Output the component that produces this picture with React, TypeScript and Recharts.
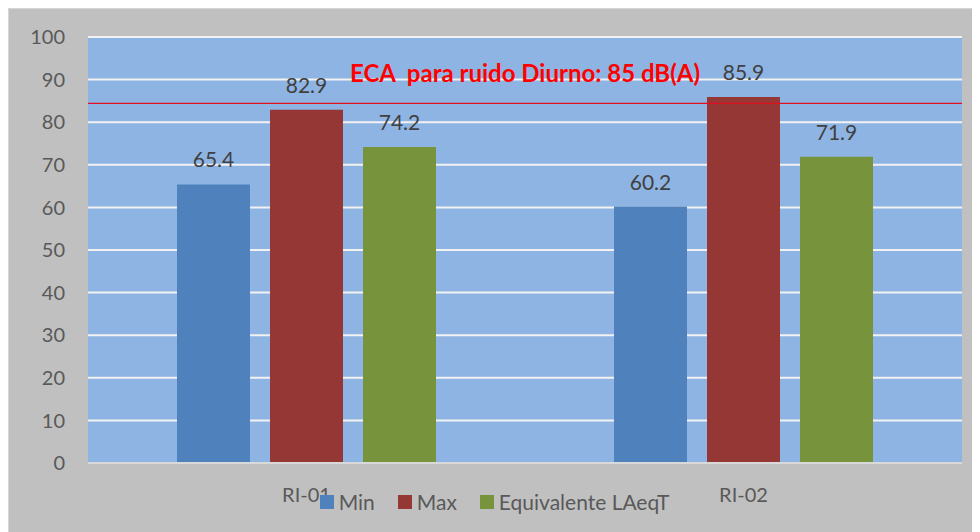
import React from "react";
import {
  BarChart,
  Bar,
  XAxis,
  YAxis,
  CartesianGrid,
  Legend,
  LabelList,
  ReferenceLine,
} from "recharts";

// puntos de monitoreo y niveles de ruido
const puntos = ["RI-01", "RI-02"];
const minVals = [65.4, 60.2];
const maxVals = [82.9, 85.9];
const laeqVals = [74.2, 71.9];
const yTicks = [0, 10, 20, 30, 40, 50, 60, 70, 80, 90, 100];

// la linea del ECA aparece dibujada algo por debajo de 85 en el grafico original
const ecaLinea = 84.4;
const ecaTexto = "ECA\u00A0\u00A0para ruido Diurno: 85 dB(A)";

const series = [
  { key: "min", name: "Min", color: "#4F81BD" },
  { key: "max", name: "Max", color: "#953735" },
  { key: "laeq", name: "Equivalente LAeqT", color: "#77933C" },
];

const data = puntos.map((p, i) => ({
  name: p,
  min: minVals[i],
  max: maxVals[i],
  laeq: laeqVals[i],
}));

const FONT = "Lato, 'Open Sans', sans-serif";

const LeyendaCustom = () => (
  <div
    style={{
      display: "flex",
      justifyContent: "center",
      alignItems: "center",
      fontFamily: FONT,
      fontSize: 21,
      color: "#595959",
    }}
  >
    {series.map((s, i) => (
      <div
        key={s.key}
        style={{ display: "flex", alignItems: "center", marginLeft: i === 0 ? 0 : 23 }}
      >
        <span
          style={{ display: "inline-block", width: 14, height: 14, background: s.color, marginRight: 5 }}
        />
        <span>{s.name}</span>
      </div>
    ))}
  </div>
);

const App = () => {
  return (
    <div
      style={{
        width: 972,
        height: 524,
        background: "#C0C0C0",
        boxSizing: "border-box",
        borderLeft: "1px solid #D6D6D6",
        borderTop: "1px solid #D6D6D6",
      }}
    >
      <BarChart
        width={971}
        height={523}
        data={data}
        margin={{ top: 28, right: 18, left: 0, bottom: 0 }}
        barGap={20}
        barSize={73}
      >
        <CartesianGrid
          vertical={false}
          fill="#8EB4E3"
          fillOpacity={1}
          stroke="#F2F2F2"
          strokeWidth={2}
        />
        <XAxis
          dataKey="name"
          height={69}
          tickLine={false}
          axisLine={{ stroke: "#D9D9D9", strokeWidth: 2 }}
          tickMargin={19}
          tick={{ fill: "#595959", fontSize: 20, fontFamily: FONT }}
        />
        <YAxis
          width={79}
          domain={[0, 100]}
          ticks={yTicks}
          interval={0}
          axisLine={false}
          tickLine={false}
          tickMargin={17}
          tick={{ fill: "#595959", fontSize: 20, fontFamily: FONT }}
        />
        <ReferenceLine
          y={ecaLinea}
          stroke="#E01020"
          strokeWidth={1.2}
          label={{
            value: ecaTexto,
            position: "top",
            offset: 21,
            fill: "#FF0000",
            fontSize: 24,
            fontWeight: 700,
            fontFamily: FONT,
          }}
        />
        <Legend
          layout="horizontal"
          verticalAlign="middle"
          align="center"
          content={<LeyendaCustom />}
          wrapperStyle={{ top: 480, left: 0, width: 971 }}
        />
        {series.map((s) => (
          <Bar key={s.key} dataKey={s.key} name={s.name} fill={s.color} isAnimationActive={false}>
            <LabelList
              dataKey={s.key}
              position="top"
              offset={17}
              fill="#404040"
              fontSize={21}
              fontFamily={FONT}
            />
          </Bar>
        ))}
      </BarChart>
    </div>
  );
};

export default App;
